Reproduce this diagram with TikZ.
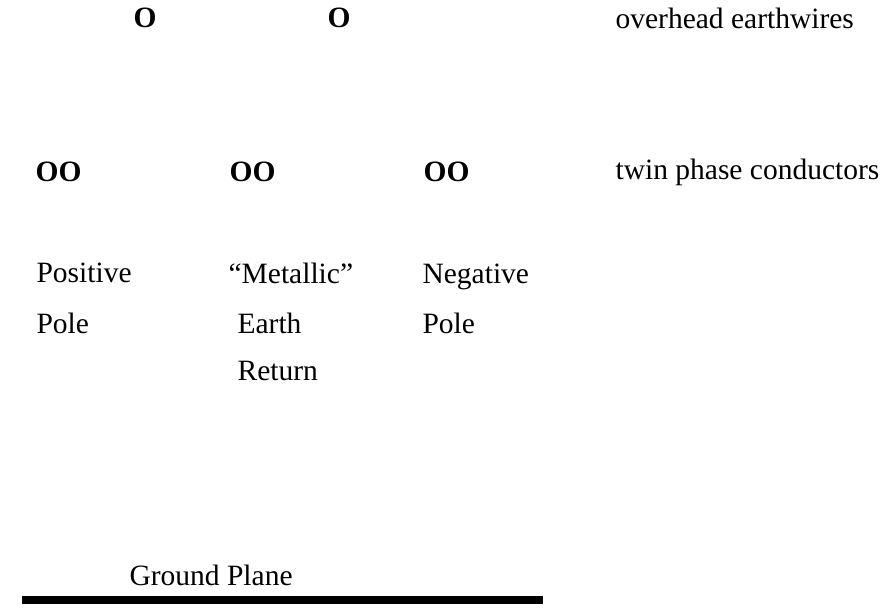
\documentclass[tikz,border=0pt]{standalone}
\usepackage{fontspec}
\setmainfont{Liberation Serif}

\begin{document}
\begin{tikzpicture}[x=0.339pt,y=-0.339pt,font=\fontsize{10pt}{12pt}\selectfont,
  txt/.style={inner sep=0pt,anchor=base west},
  wire/.style={txt,font=\fontsize{10pt}{12pt}\selectfont\bfseries}]
 \useasboundingbox (0,0) rectangle (880,607);
 % overhead earthwires
 \node[wire] (earthL) at (133,27) {O};
 \node[wire] (earthR) at (327,27) {O};
 \node[txt] (earthlbl) at (615,28) {overhead earthwires};
 % twin phase conductors
 \node[wire] (posc) at (35,181) {OO};
 \node[wire] (retc) at (229,181) {OO};
 \node[wire] (negc) at (423,181) {OO};
 \node[txt] (phaselbl) at (615,179) {twin phase conductors};
 % pole labels
 \node[txt] (pos1) at (36,282) {Positive};
 \node[txt] (pos2) at (36,333) {Pole};
 \node[txt] (ret1) at (228,283) {“Metallic”};
 \node[txt] (ret2) at (237,333) {Earth};
 \node[txt] (ret3) at (237,380) {Return};
 \node[txt] (neg1) at (422,283) {Negative};
 \node[txt] (neg2) at (422,333) {Pole};
 % ground
 \node[txt] (gndlbl) at (129,585) {Ground Plane};
 \coordinate (gndL) at (22,600);
 \coordinate (gndR) at (543,600);
 \draw[line width=2.7pt] (gndL) -- (gndR);
\end{tikzpicture}
\end{document}
